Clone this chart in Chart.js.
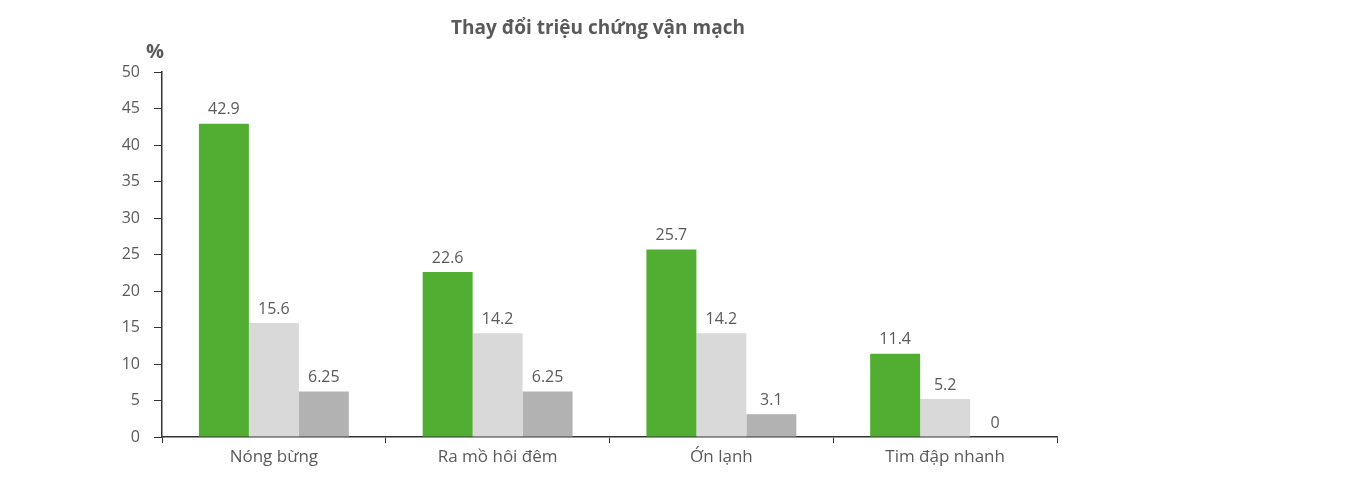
<!DOCTYPE html>
<html><head><meta charset="utf-8">
<script src="https://cdn.jsdelivr.net/npm/chart.js@4"></script>
<style>html,body{margin:0;padding:0;background:#fff}#w{width:1362px;height:482px}</style>
</head><body><div id="w"><canvas id="c"></canvas></div>
<script>
const categories = ["Nóng bừng", "Ra mồ hôi đêm", "Ớn lạnh", "Tim đập nhanh"];
const series1 = [42.9, 22.6, 25.7, 11.4];
const series2 = [15.6, 14.2, 14.2, 5.2];
const series3 = [6.25, 6.25, 3.1, 0];
const txt = "#5a5a5a";
const F = "'Open Sans', 'Noto Sans', sans-serif";
const labelsPlugin = {
  id: 'lbl',
  afterDatasetsDraw(chart) {
    const ctx = chart.ctx;
    ctx.save();
    ctx.fillStyle = txt; ctx.font = "16px " + F; ctx.textAlign = "center"; ctx.textBaseline = "bottom";
    chart.data.datasets.forEach((ds, i) => {
      chart.getDatasetMeta(i).data.forEach((el, j) => {
        ctx.fillText(String(ds.data[j]), el.x, el.y - 6);
      });
    });
    ctx.font = "bold 19px " + F;
    ctx.fillText("Thay đổi triệu chứng vận mạch", 598, 38);
    ctx.font = "bold 20px " + F;
    ctx.fillText("%", 155, 62);
    ctx.restore();
  }
};
new Chart(document.getElementById('c'), {
  type: 'bar',
  data: { labels: categories, datasets: [
    { data: series1, backgroundColor: "#52ae32" },
    { data: series2, backgroundColor: "#d9d9d9" },
    { data: series3, backgroundColor: "#b2b2b2" }
  ]},
  options: {
    responsive: true, maintainAspectRatio: false, animation: false,
    layout: { padding: { top: 72, right: 305, left: 0, bottom: 0 } },
    plugins: { legend: { display: false }, tooltip: { enabled: false } },
    datasets: { bar: { categoryPercentage: 0.67, barPercentage: 1 } },
    scales: {
      x: {
        afterFit(s) { s.height = 45; },
        grid: { offset: true, drawOnChartArea: false, drawTicks: true, tickLength: 6, color: "#333" },
        border: { color: "#333", width: 1.5 },
        ticks: { color: txt, font: { size: 17, family: F }, padding: 4 }
      },
      y: {
        min: 0, max: 50,
        afterFit(s) { s.width = 162; },
        grid: { drawOnChartArea: false, drawTicks: true, tickLength: 8, color: "#333" },
        border: { color: "#333", width: 1.5 },
        ticks: { stepSize: 5, color: txt, font: { size: 16, family: F }, padding: 14 }
      }
    }
  },
  plugins: [labelsPlugin]
});
</script></body></html>
